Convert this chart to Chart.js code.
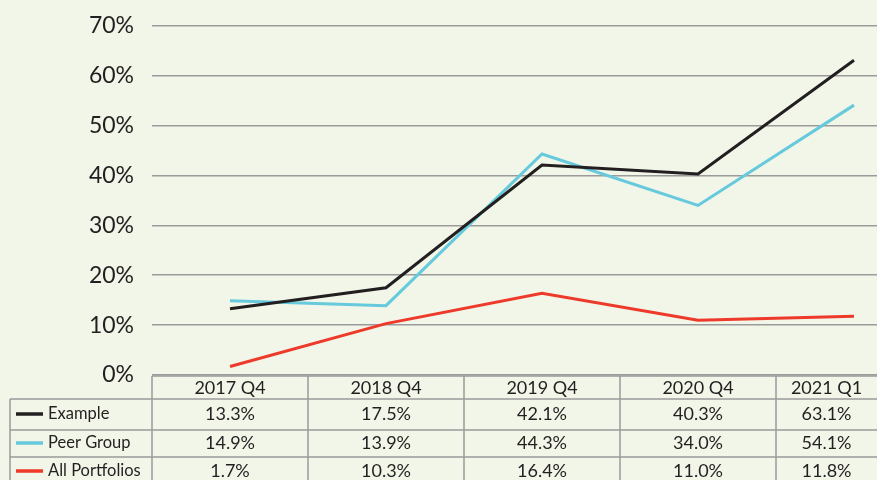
<!DOCTYPE html>
<html>
<head>
<meta charset="utf-8">
<script src="https://cdn.jsdelivr.net/npm/chart.js@4"></script>
<style>
    html, body { margin: 0; padding: 0; background: #f1f6e8; overflow: hidden; }
    #wrap { width: 932px; height: 486px; margin-top: -6px; }
</style>
</head>
<body>
<div id="wrap"><canvas id="chart"></canvas></div>
<script>
const labels = ['2017 Q4', '2018 Q4', '2019 Q4', '2020 Q4', '2021 Q1'];
const exampleValues = [13.3, 17.5, 42.1, 40.3, 63.1];
const peerValues = [14.9, 13.9, 44.3, 34.0, 54.1];
const allValues = [1.7, 10.3, 16.4, 11.0, 11.8];
const yTicks = [0, 10, 20, 30, 40, 50, 60, 70];

const fontFamily = 'Lato, "Noto Sans", sans-serif';
const textColor = '#231f20';
const gridColor = '#9b9b9b';

window.addEventListener('load', () => {
    buildReturnChart();
});

// data table under the plot, columns taken from the x scale
const tablePlugin = {
    id: 'dataTable',
    afterDraw(chart) {
        const ctx = chart.ctx;
        const x = chart.scales.x;
        const area = chart.chartArea;
        const half = (x.getPixelForValue(1) - x.getPixelForValue(0)) / 2;
        const top = area.bottom + 1;
        const rowLines = [top + 23, top + 54, top + 81];
        const rowCenters = [top + 38, top + 67, top + 95];
        const headerY = top + 12;
        const legendLeft = 10;
        const visibleRight = window.innerWidth;

        ctx.save();
        ctx.strokeStyle = gridColor;
        ctx.lineWidth = 1.5;

        ctx.beginPath();
        ctx.moveTo(area.left, top);
        ctx.lineTo(chart.width, top);
        rowLines.forEach(y => {
            ctx.moveTo(legendLeft, y);
            ctx.lineTo(chart.width, y);
        });
        const bounds = [];
        for (let i = 0; i <= labels.length; i++) {
            const bx = x.getPixelForValue(0) - half + i * half * 2;
            bounds.push(bx);
            ctx.moveTo(bx, top);
            ctx.lineTo(bx, chart.height);
        }
        ctx.moveTo(legendLeft, rowLines[0]);
        ctx.lineTo(legendLeft, chart.height);
        ctx.stroke();

        // cell centres, kept inside the visible part of the page
        const centers = labels.map((l, i) => (bounds[i] + Math.min(bounds[i + 1], visibleRight)) / 2);

        ctx.fillStyle = textColor;
        ctx.textBaseline = 'middle';
        ctx.textAlign = 'center';
        ctx.font = '18px ' + fontFamily;
        labels.forEach((l, i) => ctx.fillText(l, centers[i], headerY));

        chart.data.datasets.forEach((ds, r) => {
            const y = rowCenters[r];
            ctx.strokeStyle = ds.borderColor;
            ctx.lineWidth = 3.5;
            ctx.beginPath();
            ctx.moveTo(16, y);
            ctx.lineTo(43, y);
            ctx.stroke();

            ctx.fillStyle = textColor;
            ctx.textAlign = 'left';
            ctx.font = '16.5px ' + fontFamily;
            ctx.fillText(ds.label, 48, y);

            ctx.textAlign = 'center';
            ctx.font = '18px ' + fontFamily;
            ds.data.forEach((v, i) => {
                ctx.fillText(v.toFixed(1) + '%', centers[i], y);
            });
        });
        ctx.restore();
    }
};

function buildReturnChart() {
    const chartCtx = document.getElementById('chart').getContext('2d');

    const chart = new Chart(chartCtx, {
        type: 'line',
        data: {
            labels: labels,
            datasets: [{
                label: 'Example',
                data: exampleValues,
                borderColor: '#231f20',
                borderWidth: 3,
                pointRadius: 0,
                order: 0
            },
            {
                label: 'Peer Group',
                data: peerValues,
                borderColor: '#66c9dc',
                borderWidth: 3,
                pointRadius: 0,
                order: 1
            },
            {
                label: 'All Portfolios',
                data: allValues,
                borderColor: '#ee3a2b',
                borderWidth: 3,
                pointRadius: 0,
                order: 2
            }]
        },
        options: {
            responsive: true,
            maintainAspectRatio: false,
            animation: false,
            layout: {
                padding: { top: 0, left: 0, right: 0, bottom: 0 }
            },
            plugins: {
                legend: { display: false },
                tooltip: { enabled: false }
            },
            scales: {
                x: {
                    offset: true,
                    grid: { display: false },
                    border: { display: false },
                    ticks: { display: false },
                    afterFit(scale) {
                        scale.height = 105;
                    }
                },
                y: {
                    min: 0,
                    max: 70,
                    afterBuildTicks(scale) {
                        scale.ticks = yTicks.map(v => ({ value: v }));
                    },
                    grid: {
                        color: gridColor,
                        lineWidth: 1.5,
                        drawTicks: false
                    },
                    border: { display: false },
                    ticks: {
                        color: textColor,
                        font: { family: fontFamily, size: 23 },
                        padding: 18,
                        callback: v => v + '%'
                    },
                    afterFit(scale) {
                        scale.width = 152;
                    }
                }
            }
        },
        plugins: [tablePlugin]
    });
}
</script>
</body>
</html>
